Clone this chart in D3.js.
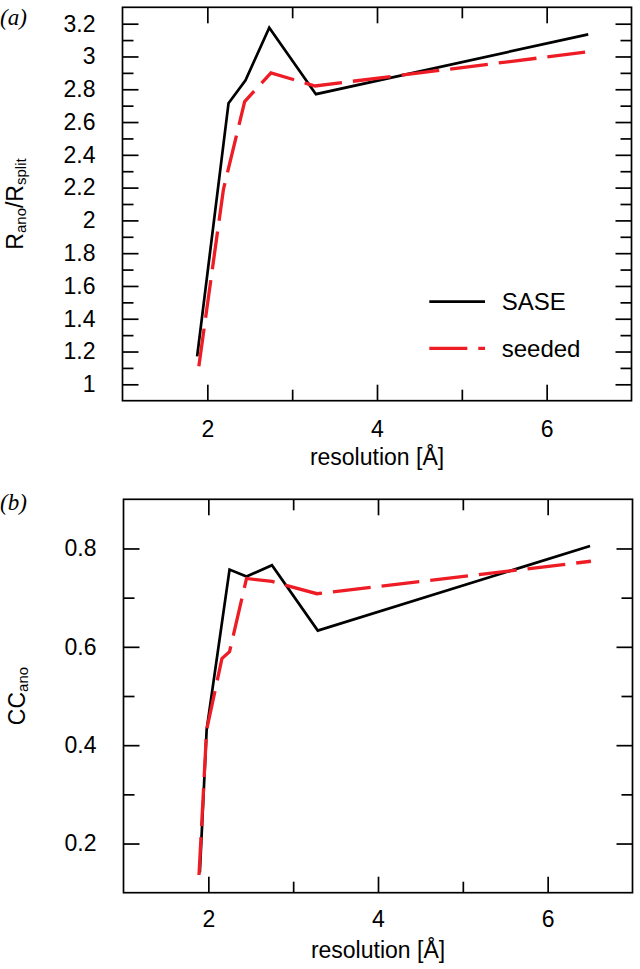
<!DOCTYPE html>
<html>
<head>
<meta charset="utf-8">
<script src="https://cdn.jsdelivr.net/npm/d3@7"></script>
<style>
  html, body { margin: 0; padding: 0; background: #fff; }
  svg { display: block; }
  text { fill: #000; }
</style>
</head>
<body>
<svg id="chart" width="640" height="969"></svg>
<script>
// ---------- data ----------
// Panel (a): Rano/Rsplit vs resolution
const resA_sase   = [1.88, 2.25, 2.45, 2.73, 3.28, 6.49];
const ratioA_sase = [1.17, 2.715, 2.855, 3.175, 2.77, 3.135];
const resA_seeded   = [1.90, 2.19, 2.44, 2.75, 3.27, 6.51];
const ratioA_seeded = [1.11, 2.19, 2.725, 2.90, 2.82, 3.03];

// Panel (b): CCano vs resolution
const resB_sase   = [1.90, 1.98, 2.25, 2.45, 2.75, 3.29, 6.50];
const ccB_sase    = [0.141, 0.431, 0.757, 0.743, 0.766, 0.633, 0.805];
const resB_seeded = [1.89, 1.98, 2.16, 2.25, 2.45, 2.75, 3.28, 6.51];
const ccB_seeded  = [0.136, 0.431, 0.576, 0.59, 0.739, 0.733, 0.708, 0.774];

// ticks
const xMajor = [2, 4, 6];
const xMinor = [3, 5];
const yMajorA = [1, 1.2, 1.4, 1.6, 1.8, 2, 2.2, 2.4, 2.6, 2.8, 3, 3.2];
const yMinorA = [1.1, 1.3, 1.5, 1.7, 1.9, 2.1, 2.3, 2.5, 2.7, 2.9, 3.1];
const yMajorB = [0.2, 0.4, 0.6, 0.8];
const yMinorB = [0.3, 0.5, 0.7];

const seriesNames = ["SASE", "seeded"];
const seriesColors = ["#000000", "#ee1c25"];

// ---------- drawing ----------
const SANS = "'Liberation Sans', Arial, sans-serif";
const SERIF = "'Liberation Serif', 'Times New Roman', serif";
const svg = d3.select("#chart");
const FS = 23;
const fmt = d => d3.format("~g")(+d.toFixed(1));

function panel(cfg) {
  const x = d3.scaleLinear().domain([1, 7]).range([cfg.left, cfg.right]);
  const y = d3.scaleLinear().domain(cfg.yDomain).range([cfg.bottom, cfg.top]);
  const g = svg.append("g");
  const MAJ = 16, MIN = 11;

  function styleAxis(sel) {
    sel.select(".domain").remove();
    sel.selectAll("line").attr("stroke", "#000").attr("stroke-width", 1.7);
    sel.selectAll("text").style("font-size", FS + "px").style("font-family", SANS);
  }
  // bottom
  g.append("g").attr("transform", `translate(0,${cfg.bottom})`)
    .call(d3.axisBottom(x).tickValues(xMajor).tickSize(-MAJ).tickSizeOuter(0).tickPadding(cfg.xPad).tickFormat(fmt))
    .call(styleAxis);
  g.append("g").attr("transform", `translate(0,${cfg.bottom})`)
    .call(d3.axisBottom(x).tickValues(xMinor).tickSize(-MIN).tickSizeOuter(0).tickFormat(""))
    .call(styleAxis);
  // top
  g.append("g").attr("transform", `translate(0,${cfg.top})`)
    .call(d3.axisTop(x).tickValues(xMajor).tickSize(-MAJ).tickSizeOuter(0).tickFormat(""))
    .call(styleAxis);
  g.append("g").attr("transform", `translate(0,${cfg.top})`)
    .call(d3.axisTop(x).tickValues(xMinor).tickSize(-MIN).tickSizeOuter(0).tickFormat(""))
    .call(styleAxis);
  // left
  g.append("g").attr("transform", `translate(${cfg.left},0)`)
    .call(d3.axisLeft(y).tickValues(cfg.yMajor).tickSize(-MAJ).tickSizeOuter(0).tickPadding(cfg.yPad).tickFormat(fmt))
    .call(styleAxis);
  g.append("g").attr("transform", `translate(${cfg.left},0)`)
    .call(d3.axisLeft(y).tickValues(cfg.yMinor).tickSize(-MIN).tickSizeOuter(0).tickFormat(""))
    .call(styleAxis);
  // right
  g.append("g").attr("transform", `translate(${cfg.right},0)`)
    .call(d3.axisRight(y).tickValues(cfg.yMajor).tickSize(-MAJ).tickSizeOuter(0).tickFormat(""))
    .call(styleAxis);
  g.append("g").attr("transform", `translate(${cfg.right},0)`)
    .call(d3.axisRight(y).tickValues(cfg.yMinor).tickSize(-MIN).tickSizeOuter(0).tickFormat(""))
    .call(styleAxis);

  // frame
  g.append("rect")
    .attr("x", cfg.left).attr("y", cfg.top)
    .attr("width", cfg.right - cfg.left).attr("height", cfg.bottom - cfg.top)
    .attr("fill", "none").attr("stroke", "#000").attr("stroke-width", 1.7);

  // lines
  const line = d3.line().x(d => x(d[0])).y(d => y(d[1]));
  const sase = cfg.sx.map((v, i) => [v, cfg.sy[i]]);
  const seed = cfg.dx.map((v, i) => [v, cfg.dy[i]]);
  g.append("path").datum(sase).attr("d", line)
    .attr("fill", "none").attr("stroke", seriesColors[0]).attr("stroke-width", 2.7)
    .attr("stroke-linejoin", "miter");
  g.append("path").datum(seed).attr("d", line)
    .attr("fill", "none").attr("stroke", seriesColors[1]).attr("stroke-width", 3.3)
    .attr("stroke-dasharray", "38,11");

  // x label
  g.append("text").attr("x", x(4)).attr("y", cfg.xLabelY)
    .attr("text-anchor", "middle")
    .style("font-family", SANS).style("font-size", FS + "px").text("resolution [Å]");

  // y label
  const yl = g.append("text")
    .attr("transform", `translate(${cfg.yLabelX},${(cfg.top + cfg.bottom) / 2}) rotate(-90)`)
    .attr("text-anchor", "middle")
    .style("font-family", SANS).style("font-size", FS + "px");
  cfg.yLabel.forEach(p => {
    const t = yl.append("tspan").text(p.t);
    if (p.sub) t.style("font-size", "15px").attr("dy", 3);
    else if (p.after) t.attr("dy", -3);
  });

  // panel letter
  g.append("text").attr("x", 0).attr("y", cfg.letterY)
    .style("font-family", SERIF)
    .style("font-style", "italic").style("font-size", "23px").text(cfg.letter);

  return { x, y, g };
}

panel({
  left: 122.5, right: 631.5, top: 7.3, bottom: 400.7,
  yDomain: [0.9, 3.3], yMajor: yMajorA, yMinor: yMinorA,
  xPad: 20, yPad: 27, xLabelY: 465, yLabelX: 23, letterY: 25, letter: "(a)",
  sx: resA_sase, sy: ratioA_sase, dx: resA_seeded, dy: ratioA_seeded,
  yLabel: [{t: "R"}, {t: "ano", sub: true}, {t: "/R", after: true}, {t: "split", sub: true}]
});

panel({
  left: 123.5, right: 632.5, top: 499.3, bottom: 892.7,
  yDomain: [0.1, 0.9], yMajor: yMajorB, yMinor: yMinorB,
  xPad: 18, yPad: 27, xLabelY: 958, yLabelX: 25, letterY: 510, letter: "(b)",
  sx: resB_sase, sy: ccB_sase, dx: resB_seeded, dy: ccB_seeded,
  yLabel: [{t: "CC"}, {t: "ano", sub: true}]
});

// legend (panel a)
const legend = svg.append("g");
const legRows = [{y: 301.7, ty: 310}, {y: 348.3, ty: 357}];
seriesNames.forEach((name, i) => {
  legend.append("line")
    .attr("x1", 429.3).attr("x2", 485).attr("y1", legRows[i].y).attr("y2", legRows[i].y)
    .attr("stroke", seriesColors[i]).attr("stroke-width", i ? 3.3 : 2.7)
    .attr("stroke-dasharray", i ? "38,11" : null);
  legend.append("text").attr("x", 501.7).attr("y", legRows[i].ty)
    .style("font-family", SANS).style("font-size", "24px").text(name);
});
</script>
</body>
</html>
